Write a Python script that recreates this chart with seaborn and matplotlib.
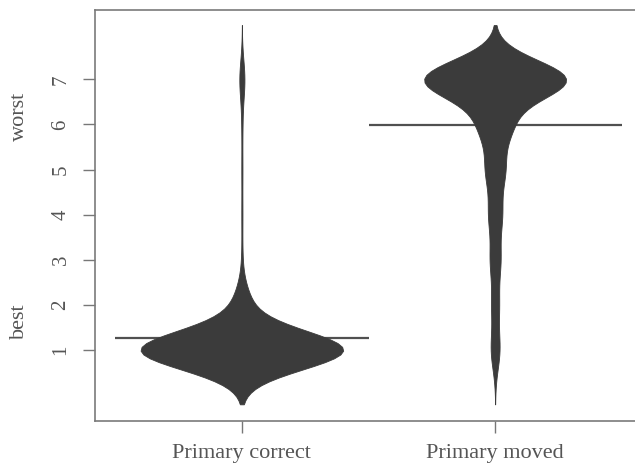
import numpy as np
import pandas as pd
import matplotlib
matplotlib.use("Agg")
import matplotlib.pyplot as plt
import matplotlib.transforms as mtransforms
import seaborn as sns

# rank values (1 = best, 7 = worst) and how often each was given
ranks = [1, 2, 3, 4, 5, 6, 7]
categories = ["Primary correct", "Primary moved"]
counts_correct = [200, 15, 1, 1, 1, 1, 5]
counts_moved = [6, 5, 7, 9, 13, 22, 100]

# end labels on the rank axis
end_labels = ["best", "worst"]
end_label_pos = [1.64, 6.17]

df = pd.DataFrame({
    "group": np.repeat(categories, [sum(counts_correct), sum(counts_moved)]),
    "rank": np.concatenate([np.repeat(ranks, counts_correct),
                            np.repeat(ranks, counts_moved)]).astype(float),
})

sns.set_style("ticks")
plt.rcParams["font.family"] = ["Liberation Serif", "DejaVu Serif"]

fig = plt.figure(figsize=(6.35, 4.66), dpi=100)
ax = fig.add_axes([95 / 635, 1 - 420.7 / 466, (642 - 95) / 635, (420.7 - 10) / 466])

bean = "#3b3b3b"
bw = 0.43
widths = {"Primary correct": 0.80, "Primary moved": 0.56}

for i, cat in enumerate(categories):
    sub = df[df["group"] == cat]
    factor = bw / sub["rank"].std(ddof=1)
    sns.violinplot(data=sub, x="group", y="rank", order=categories,
                   color=bean, saturation=1, inner=None, bw_method=factor,
                   cut=2.8, width=widths[cat], density_norm="width",
                   linewidth=0.6, linecolor=bean, ax=ax)
    # bean line at the group mean (sits behind the bean)
    ax.hlines(sub["rank"].mean(), i - 0.5, i + 0.5, color="#505050", lw=1.6, zorder=0.5)

ax.set_xlim(-0.58, 1.58)
ax.set_ylim(-0.567, 8.537)
ax.set_yticks(ranks)
ax.set_xlabel("")
ax.set_ylabel("")

txt = "#555555"
ax.tick_params(axis="both", length=8.6, width=1.0, color="#777777",
               labelcolor=txt)
ax.tick_params(axis="x", pad=8, labelsize=16)
ax.tick_params(axis="y", pad=9, labelsize=15)
for lab in ax.get_yticklabels():
    lab.set_rotation(90)
    lab.set_va("center")

for s in ax.spines.values():
    s.set_color("#7a7a7a")
    s.set_linewidth(1.2)
ax.spines["right"].set_visible(False)

trans = mtransforms.blended_transform_factory(ax.transAxes, ax.transData)
for lab, pos in zip(end_labels, end_label_pos):
    ax.text(-0.13, pos, lab, transform=trans, rotation=90, rotation_mode="anchor",
            ha="center", va="baseline", fontsize=16, color=txt)

fig.savefig("out.png", dpi=100)
